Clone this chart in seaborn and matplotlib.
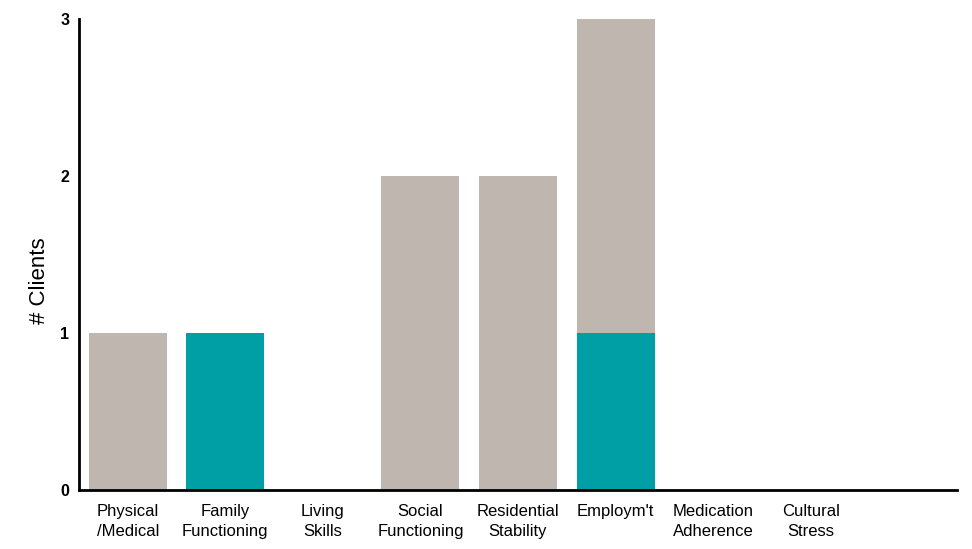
import numpy as np
import pandas as pd
import seaborn as sns
import matplotlib.pyplot as plt

categories = ["Physical\n/Medical", "Family\nFunctioning", "Living\nSkills",
              "Social\nFunctioning", "Residential\nStability", "Employm't",
              "Medication\nAdherence", "Cultural\nStress"]
gray_vals = [1, 0, 0, 2, 2, 2, 0, 0]
teal_vals = [0, 1, 0, 0, 0, 1, 0, 0]

gray_col = "#bfb6b0"
teal_col = "#009ea5"

df = pd.DataFrame({"domain": categories, "gray": gray_vals, "teal": teal_vals})
df["total"] = df["gray"] + df["teal"]

sns.set_theme(style="white")
plt.rcParams["font.family"] = ["Liberation Sans", "DejaVu Sans"]

fig = plt.figure(figsize=(9.72, 5.49), dpi=100)
ax = fig.add_axes([79 / 972, 59 / 549, 878 / 972, 471 / 549])

# stacked: total in gray, teal part drawn over the bottom
sns.barplot(data=df, x="domain", y="total", color=gray_col, width=0.8,
            saturation=1, linewidth=0, ax=ax)
sns.barplot(data=df, x="domain", y="teal", color=teal_col, width=0.8,
            saturation=1, linewidth=0, ax=ax)

ax.set_xlim(-0.5, 8.5)
ax.set_ylim(0, 3)
ax.set_yticks([0, 1, 2, 3])
ax.set_yticklabels(["0", "1", "2", "3"], fontweight="bold", fontsize=11.5)
ax.set_xticks(range(len(categories)))
ax.set_xticklabels(categories, fontsize=12, linespacing=1.4)
ax.set_xlabel("")
ax.set_ylabel("# Clients", fontsize=16, color="black")
ax.yaxis.set_label_coords(-0.033, 0.445)
ax.tick_params(axis="both", length=0, colors="black")
ax.tick_params(axis="y", pad=7)
ax.tick_params(axis="x", pad=10)

for s in ["top", "right"]:
    ax.spines[s].set_visible(False)
for s in ["left", "bottom"]:
    ax.spines[s].set_color("black")
    ax.spines[s].set_linewidth(2)

fig.savefig("out.png", dpi=100)
